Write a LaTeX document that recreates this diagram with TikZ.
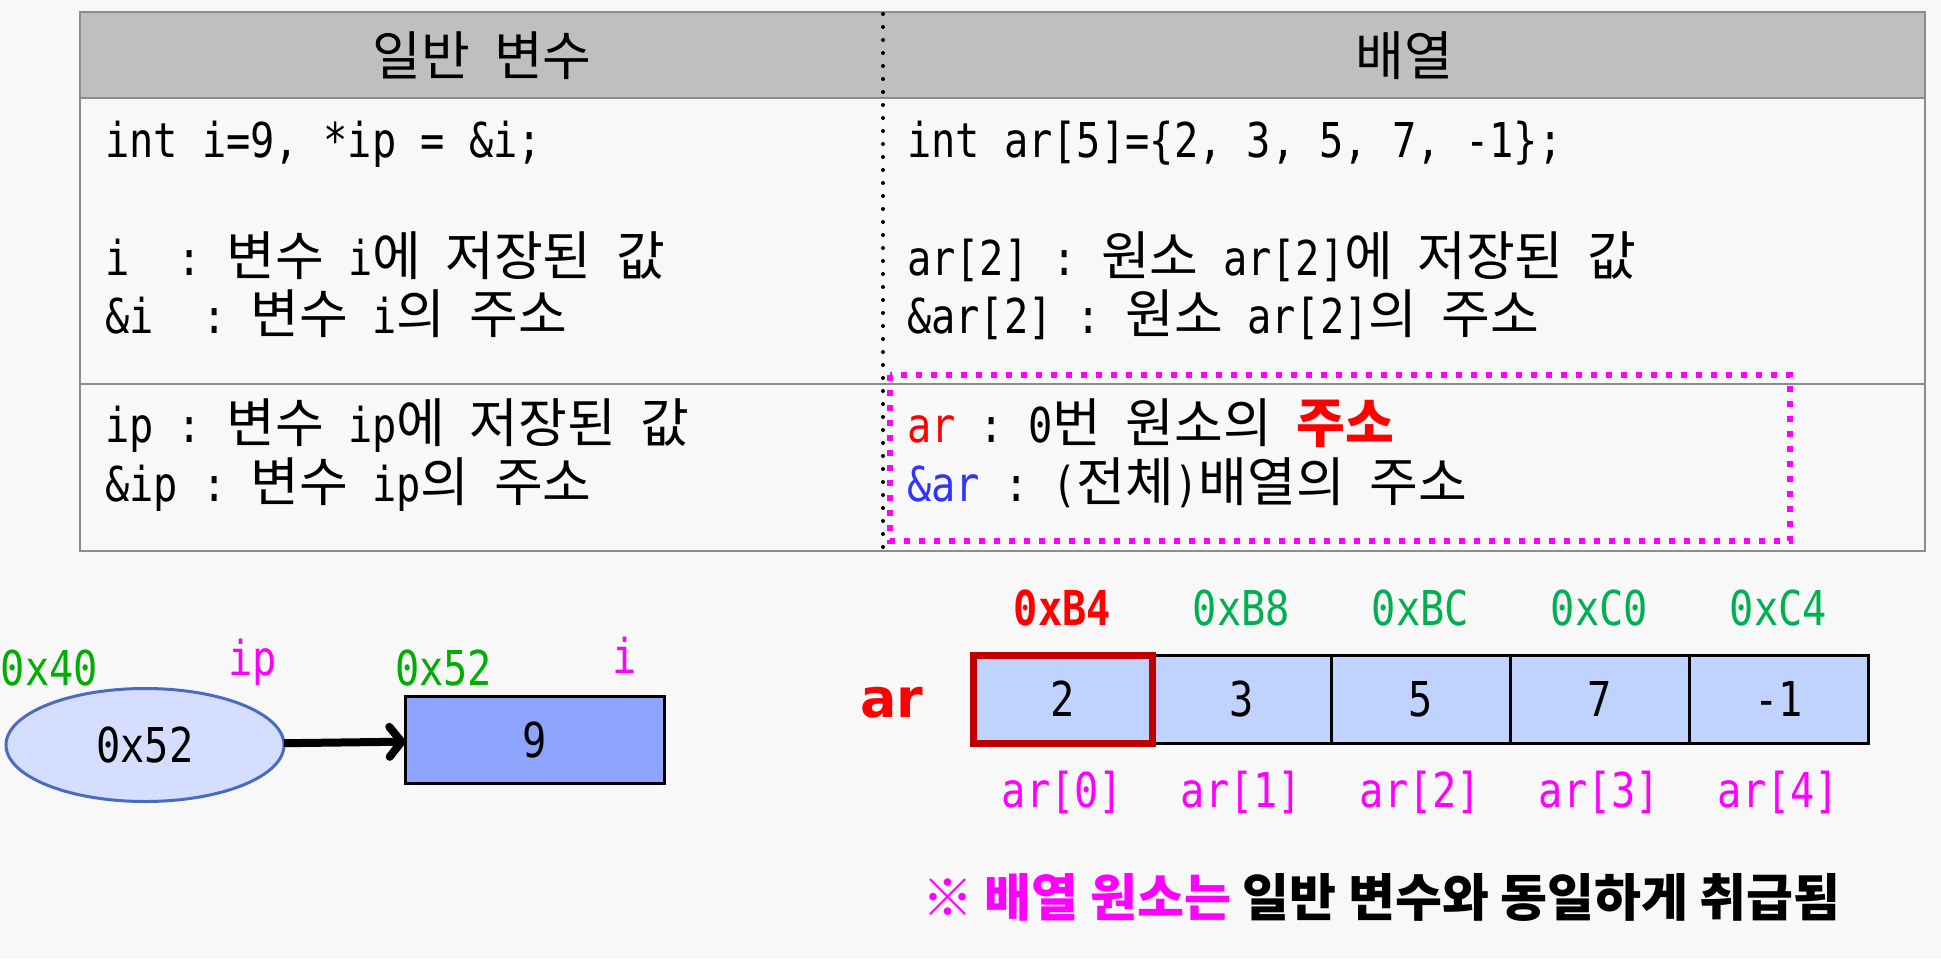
\documentclass[tikz,border=0pt]{standalone}
\usepackage{fontspec}
\setmainfont{DejaVu Sans Mono}[FakeStretch=0.84]
\newfontfamily\krfont{Noto Sans CJK KR}
\newfontfamily\arfont{DejaVu Sans}
\newcommand\hg[1]{{\krfont\fontsize{53}{58}\selectfont #1}}
\usetikzlibrary{shapes.geometric,arrows.meta}
\definecolor{bgc}{HTML}{F8F8F8}
\definecolor{hdrc}{HTML}{BFBFBF}
\definecolor{tblc}{HTML}{8C8C8C}
\definecolor{magc}{HTML}{FF00FF}
\definecolor{redc}{HTML}{FF0000}
\definecolor{bluec}{HTML}{3333FF}
\definecolor{grnA}{HTML}{00AE00}
\definecolor{grnB}{HTML}{00B050}
\definecolor{darkred}{HTML}{C00000}
\definecolor{cellc}{HTML}{C0D3FE}
\definecolor{varc}{HTML}{8EA5FF}
\definecolor{ellc}{HTML}{D6DEFF}
\definecolor{elldraw}{HTML}{4A6CC0}
\begin{document}
\begin{tikzpicture}[x=1pt,y=-1pt,
  every node/.style={inner sep=0pt,outer sep=0pt},
  base/.style={font=\fontsize{48}{58}\selectfont\frenchspacing},
  txt/.style={base,anchor=base west},
  ctr/.style={base,anchor=base},
  tbl/.style={draw=tblc,line width=2.5pt},
  dotline/.style={line width=4pt,line cap=round,dash pattern=on 0pt off 13pt},
  magbox/.style={draw=magc,line width=6pt,dash pattern=on 6pt off 9pt},
  ell/.style={ellipse,draw=elldraw,fill=ellc,line width=3pt,minimum width=278pt,minimum height=113pt,base},
  varbox/.style={rectangle,draw=black,fill=varc,line width=3pt,minimum width=259pt,minimum height=87pt,base},
  cell/.style={rectangle,draw=black,fill=cellc,line width=3pt,minimum width=179pt,minimum height=88pt,base},
  redbox/.style={draw=darkred,line width=7pt},
  ptrarrow/.style={line width=8pt,-{Straight Barb[length=12pt,width=30pt,round]}}
]
\fill[bgc] (0,0) rectangle (1941,959);
\useasboundingbox (0,0) rectangle (1941,959);
% table
\fill[hdrc] (80,12) rectangle (1925,98);
\draw[tbl] (80,12) rectangle (1925,551);
\draw[tbl] (80,98) -- (1925,98);
\draw[tbl] (80,384) -- (1925,384);
\draw[dotline] (883,14) -- (883,551);
\draw[magbox] (890,375) rectangle (1790,541);
% headers
\node[ctr] (h1) at (482,75) {\hg{일반} \hg{변수}};
\node[ctr] (h2) at (1404,75) {\hg{배열}};
% left column
\node[txt] (l1) at (105,157) {int i=9, *ip = \&i;};
\node[txt] (l2) at (105,275) {i\ \ : \hg{변수} i\hg{에} \hg{저장된} \hg{값}};
\node[txt] (l3) at (105,333) {\&i\ \ : \hg{변수} i\hg{의} \hg{주소}};
\node[txt] (l4) at (105,442) {ip : \hg{변수} ip\hg{에} \hg{저장된} \hg{값}};
\node[txt] (l5) at (105,501) {\&ip : \hg{변수} ip\hg{의} \hg{주소}};
% right column
\node[txt] (r1) at (907,157) {int ar[5]=\{2, 3, 5, 7, -1\};};
\node[txt] (r2) at (907,275) {ar[2] : \hg{원소} ar[2]\hg{에} \hg{저장된} \hg{값}};
\node[txt] (r3) at (907,333) {\&ar[2] : \hg{원소} ar[2]\hg{의} \hg{주소}};
\node[txt] (r4) at (907,442) {\textcolor{redc}{ar} : 0\hg{번} \hg{원소의} \textcolor{redc}{\bfseries\hg{주소}}};
\node[txt] (r5) at (907,501) {\textcolor{bluec}{\&ar} : (\hg{전체})\hg{배열의} \hg{주소}};
% pointer diagram
\node[ell] (ip) at (145,745) {0x52};
\node[varbox] (vi) at (535,740) {9};
\draw[ptrarrow] (ip) -- (vi);
\node[txt,text=grnA] (a40) at (1,685) {0x40};
\node[txt,text=magc] (lip) at (228,675) {ip};
\node[txt,text=grnA] (a52) at (395,685) {0x52};
\node[txt,text=magc] (li) at (612,673) {i};
% array
\foreach \v [count=\k from 0] in {2,3,5,7,-1}
  \node[cell] (c\k) at ({1062.5+179*\k},699) {\v};
\draw[redbox] (c0.north west) rectangle (c0.south east);
\node[ctr,text=redc,font=\fontsize{48}{58}\selectfont\bfseries] (ad0) at (1062.5,625) {0xB4};
\node[ctr,text=grnB] (ad1) at (1241.5,625) {0xB8};
\node[ctr,text=grnB] (ad2) at (1420.5,625) {0xBC};
\node[ctr,text=grnB] (ad3) at (1599.5,625) {0xC0};
\node[ctr,text=grnB] (ad4) at (1778.5,625) {0xC4};
\foreach \k in {0,...,4}
  \node[ctr,text=magc] (ix\k) at ({1062.5+179*\k},807) {ar[\k]};
\node[anchor=base,text=redc,font=\fontsize{54}{60}\selectfont\arfont\bfseries] (arl) at (892,717) {ar};
% note
\node[anchor=base west,font=\fontsize{51}{58}\selectfont\krfont\bfseries] (note) at (922,916)
  {\textcolor{magc}{※ 배열 원소는} 일반 변수와 동일하게 취급됨};
\end{tikzpicture}
\end{document}
